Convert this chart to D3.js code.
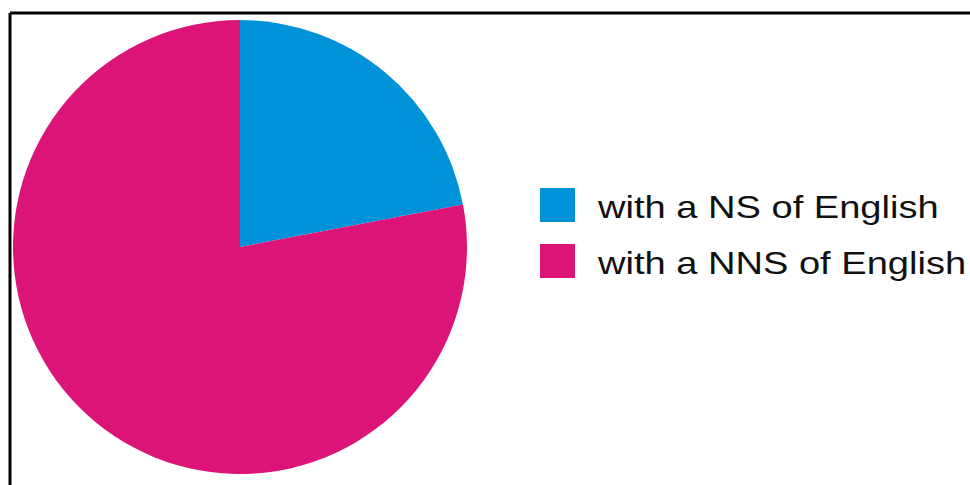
<!DOCTYPE html>
<html><head><meta charset="utf-8">
<script src="https://cdn.jsdelivr.net/npm/d3@7"></script>
<style>html,body{margin:0;padding:0;background:#fff;}svg{display:block;}</style>
</head><body>
<svg id="chart" width="970" height="485"></svg>
<script>
const categories = ["with a NS of English", "with a NNS of English"];
const values = [22, 78];
const colors = ["#0092d8", "#dc1477"];

const svg = d3.select("#chart");
// frame (top and left edges visible)
svg.append("line").attr("x1", 10).attr("y1", 13).attr("x2", 970).attr("y2", 13)
  .attr("stroke", "#000").attr("stroke-width", 3);
svg.append("line").attr("x1", 10).attr("y1", 13).attr("x2", 10).attr("y2", 485)
  .attr("stroke", "#000").attr("stroke-width", 3);

const cx = 240, cy = 247, r = 227;
const pie = d3.pie().sort(null).value(d => d)(values);
const arc = d3.arc().innerRadius(0).outerRadius(r);
const g = svg.append("g").attr("transform", `translate(${cx},${cy})`);
g.selectAll("path").data(pie).join("path")
  .attr("d", arc)
  .attr("fill", (d, i) => colors[i]);

const legend = svg.append("g").attr("transform", "translate(540,188)");
const item = legend.selectAll("g").data(categories).join("g")
  .attr("transform", (d, i) => `translate(0,${i * 56})`);
item.append("rect").attr("width", 35).attr("height", 34)
  .attr("fill", (d, i) => colors[i]);
item.append("text")
  .attr("transform", "translate(58,30) scale(1.19,1)")
  .attr("font-family", "Liberation Sans, Arial, sans-serif")
  .attr("font-size", 32).attr("fill", "#111")
  .text(d => d);
</script>
</body></html>
